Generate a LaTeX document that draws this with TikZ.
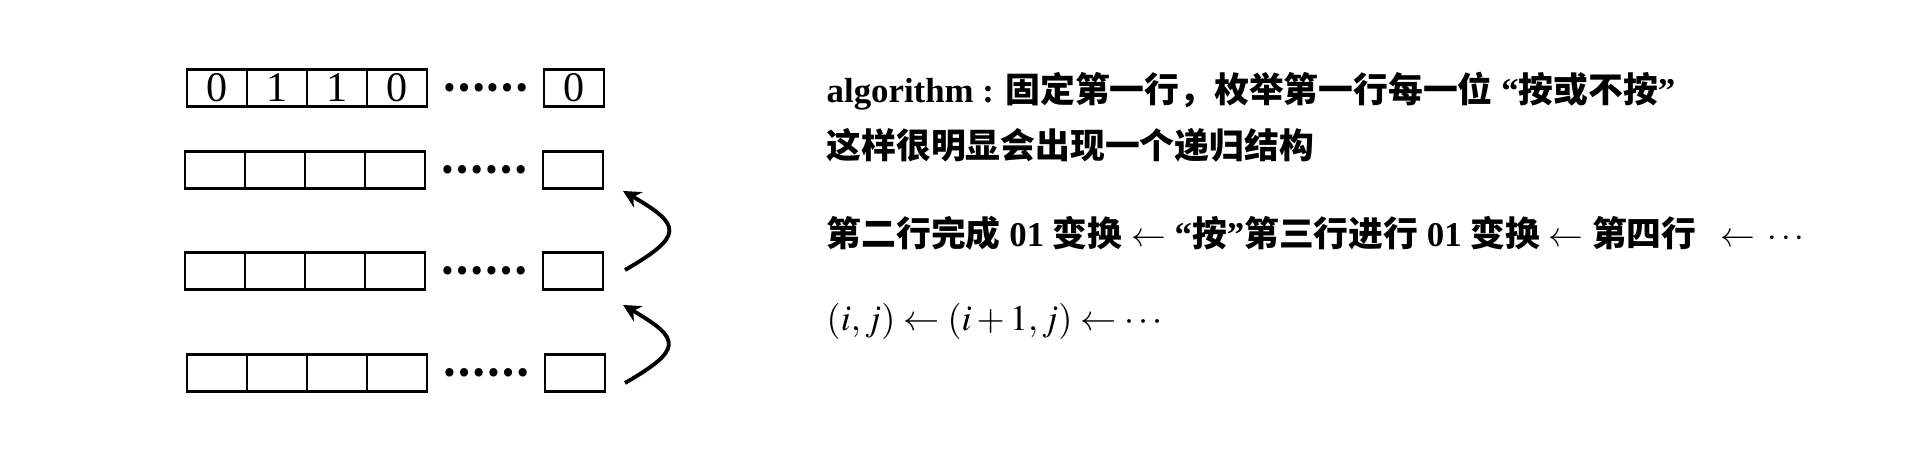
\documentclass[tikz,border=0pt]{standalone}
\usepackage{mathptmx}
\usepackage{fontspec}
\setmainfont{Liberation Serif}
\newfontfamily\cjk{Noto Sans CJK SC}
\usetikzlibrary{arrows.meta,positioning,calc}
\tikzset{
  % 格子
  cell/.style={
    draw,
    line width=0.8pt,
    outer sep=0pt,
    inner sep=0pt,
    minimum width=0.6cm,
    minimum height=0.37cm,
    font=\fontsize{12}{12}\selectfont
  },
  % 省略号
  ellip/.style={inner sep=0pt, font=\fontsize{11}{11}\selectfont\cjk\bfseries},
  % 右侧文字
  txt/.style={anchor=base west, inner sep=0pt, font=\fontsize{9.9}{12}\selectfont\bfseries},
  % 箭头样式
  arr/.style={-{Stealth[length=5pt,width=5pt]}, line width=1.1pt},
}
\newcommand{\zh}[1]{{\cjk\bfseries #1}}

\begin{document}
\begin{tikzpicture}
  \useasboundingbox (0,0) rectangle (19.2,-4.6);

  % 第一行
  \node[cell] (r1-c1) at (2.17,-0.88) {0};
  \node[cell, right=0pt of r1-c1] (r1-c2) {1};
  \node[cell, right=0pt of r1-c2] (r1-c3) {1};
  \node[cell, right=0pt of r1-c3] (r1-c4) {0};
  \node[cell] (r1-e) at (5.74,-0.88) {0};
  \node[ellip] (r1-d) at ($(r1-c4.east)!0.5!(r1-e.west)$) {……};

  % 其余各行
  \foreach \row/\y/\x/\xe in {2/1.70/2.15/5.73, 3/2.71/2.15/5.73, 4/3.73/2.17/5.75} {
    \node[cell] (r\row-c1) at (\x,-\y) {};
    \foreach \c [count=\p] in {2,3,4}
      \node[cell, right=0pt of r\row-c\p] (r\row-c\c) {};
    \node[cell] (r\row-e) at (\xe,-\y) {};
    \node[ellip] (r\row-d) at ($(r\row-c4.east)!0.5!(r\row-e.west)$) {……};
  }

  % 递归箭头
  \coordinate (a1s) at (6.25,-2.70);
  \coordinate (a1e) at (6.23,-1.91);
  \coordinate (a2s) at (6.25,-3.83);
  \coordinate (a2e) at (6.23,-3.05);
  \draw[arr] (a1s) to[out=30, in=-30, looseness=2.2] (a1e);
  \draw[arr] (a2s) to[out=30, in=-30, looseness=2.2] (a2e);

  % 说明
  \node[txt] (l1) at (8.26,-1.03) {algorithm : \zh{固定第一行，枚举第一行每一位} “\zh{按或不按}”};
  \node[txt] (l2) at (8.26,-1.59) {\zh{这样很明显会出现一个递归结构}};
  \node[txt] (l3) at (8.26,-2.47) {\zh{第二行完成} 01 \zh{变换} $\leftarrow$ “\zh{按}”\zh{第三行进行} 01 \zh{变换} $\leftarrow$ \zh{第四行}\hspace{0.7em}$\leftarrow$\hspace{0.35em}$\cdots$};
  \node[txt, font=\fontsize{10.3}{12}\selectfont] (l4) at (8.26,-3.31) {$(i,j)\leftarrow(i+1,j)\leftarrow\cdots$};
\end{tikzpicture}
\end{document}
